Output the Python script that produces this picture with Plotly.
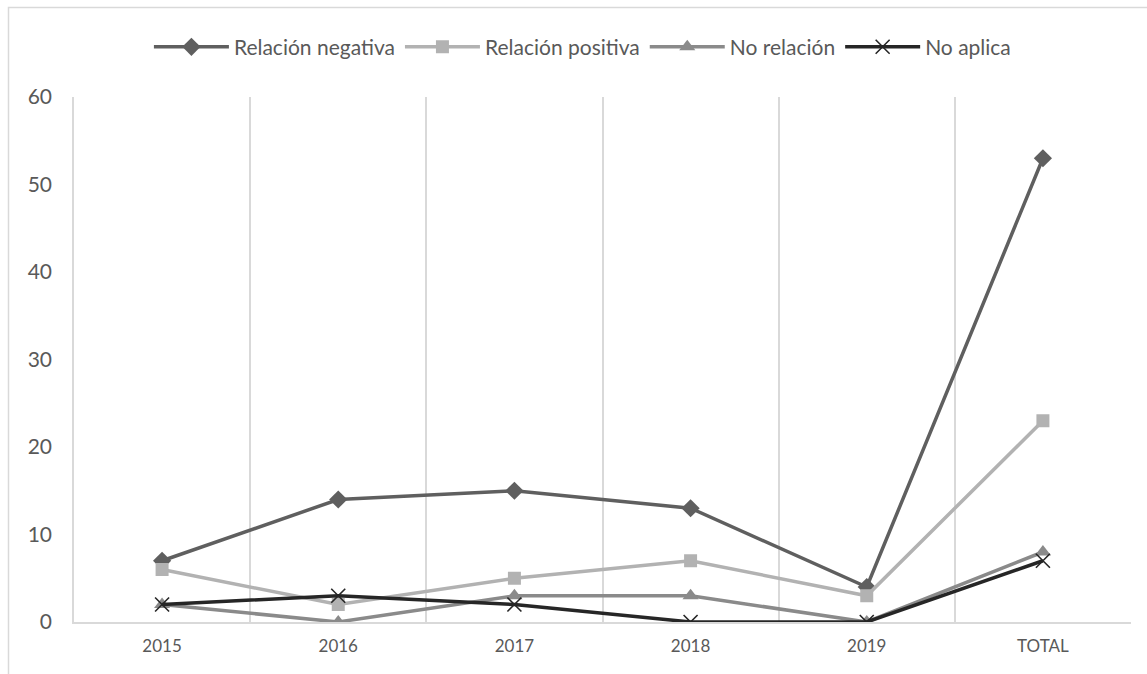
import plotly.graph_objects as go

categories = ["2015", "2016", "2017", "2018", "2019", "TOTAL"]
relacion_negativa = [7, 14, 15, 13, 4, 53]
relacion_positiva = [6, 2, 5, 7, 3, 23]
no_relacion = [2, 0, 3, 3, 0, 8]
no_aplica = [2, 3, 2, 0, 0, 7]

FONT = "Lato, 'Open Sans', sans-serif"
TEXT = "#595959"
GRID = "#d9d9d9"

fig = go.Figure()
fig.add_trace(go.Scatter(
    x=categories, y=relacion_negativa, name="Relación negativa", mode="lines+markers",
    line=dict(color="#5f5f5f", width=3.5),
    marker=dict(symbol="diamond", size=14, color="#5f5f5f")))
fig.add_trace(go.Scatter(
    x=categories, y=relacion_positiva, name="Relación positiva", mode="lines+markers",
    line=dict(color="#b2b2b2", width=3.5),
    marker=dict(symbol="square", size=13, color="#b2b2b2")))
fig.add_trace(go.Scatter(
    x=categories, y=no_relacion, name="No relación", mode="lines+markers",
    line=dict(color="#8a8a8a", width=3.5),
    marker=dict(symbol="triangle-up", size=14, color="#8a8a8a")))
fig.add_trace(go.Scatter(
    x=categories, y=no_aplica, name="No aplica", mode="lines+markers",
    line=dict(color="#262626", width=3.5),
    marker=dict(symbol="x-thin-open", size=14, color="#262626",
                line=dict(color="#262626", width=1.6))))

fig.update_layout(
    width=1147, height=674,
    margin=dict(l=74, r=16, t=97, b=52),
    paper_bgcolor="white", plot_bgcolor="white",
    font=dict(family=FONT, color=TEXT, size=16),
    legend=dict(orientation="h", x=0.481, xanchor="center", y=1.095, yanchor="middle",
                font=dict(size=21, color=TEXT), itemwidth=75, traceorder="normal"),
    xaxis=dict(type="category", range=[-0.5, 5.5], tickson="boundaries",
               showgrid=True, gridcolor=GRID, gridwidth=1.5,
               showline=True, linecolor=GRID, linewidth=1.5,
               ticks="", tickfont=dict(size=17, color=TEXT), ticklabelstandoff=8),
    yaxis=dict(range=[0, 60], dtick=10, showgrid=False, zeroline=False,
               showline=True, linecolor=GRID, linewidth=1.5,
               ticks="", tickfont=dict(size=21, color=TEXT), ticklabelstandoff=16),
    shapes=[dict(type="rect", xref="paper", yref="paper",
                 x0=(8.5 - 74) / 1057, x1=1.03, y0=-0.12, y1=(622 - 7.5) / 525,
                 line=dict(color=GRID, width=1.5), layer="below")],
)

fig.write_html("out.html")
